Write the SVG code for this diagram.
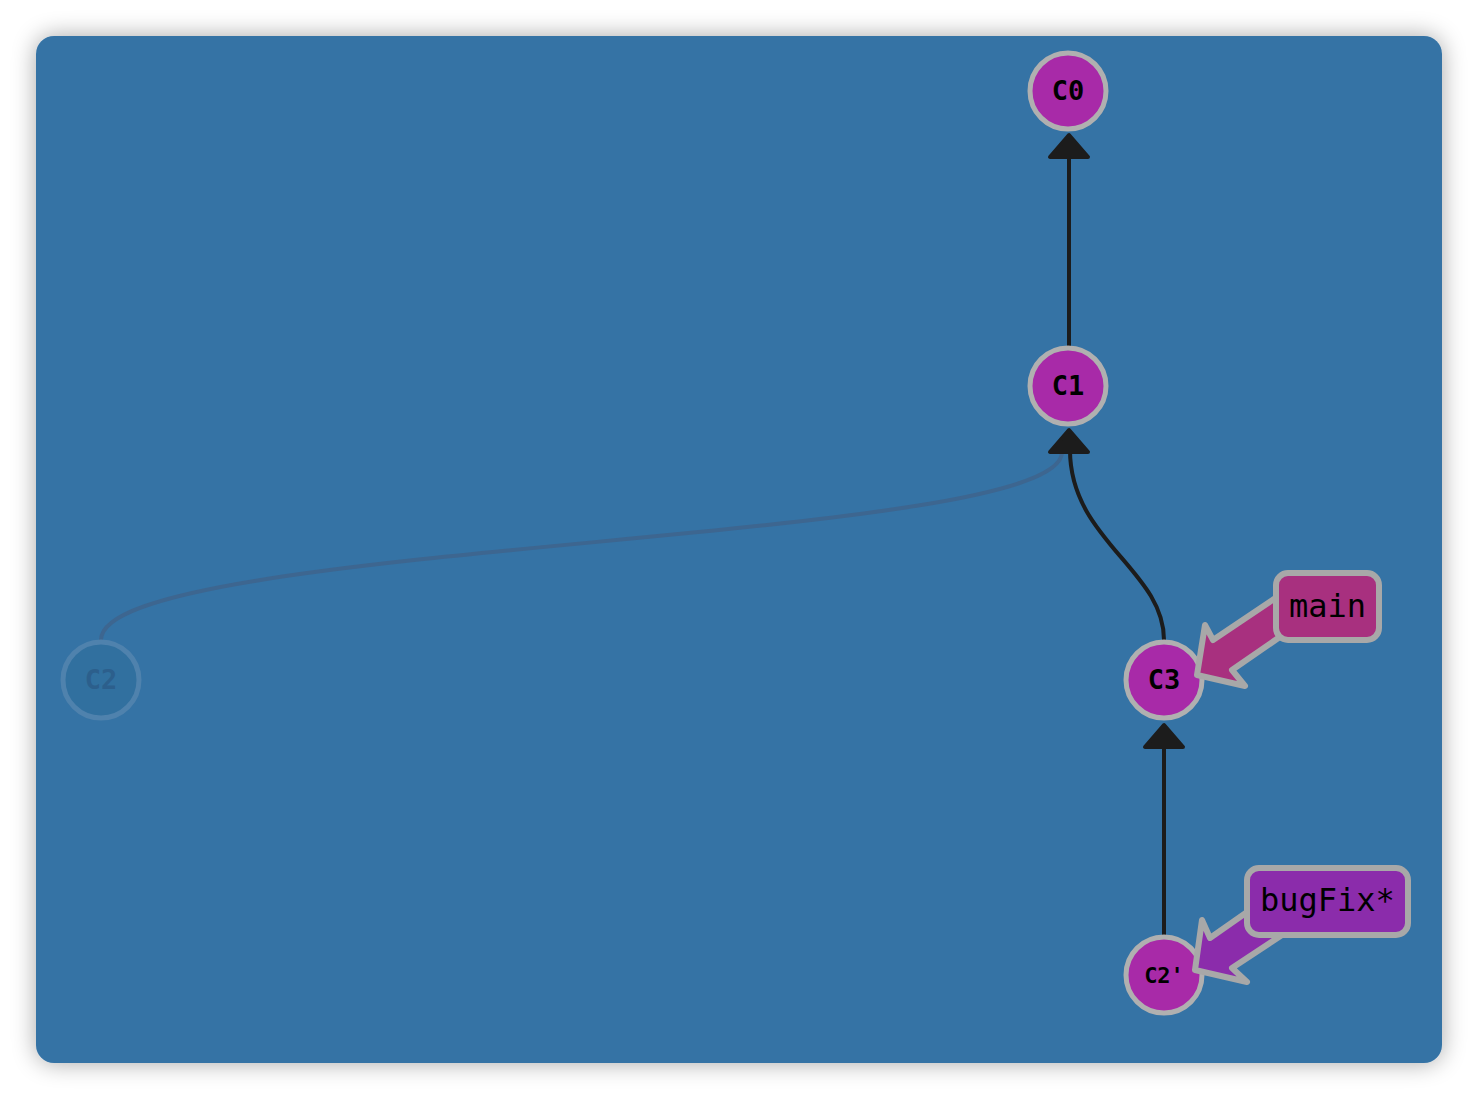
<svg xmlns="http://www.w3.org/2000/svg" width="1478" height="1100" viewBox="0 0 1478 1100">
<defs>
<filter id="sh" x="-10%" y="-10%" width="120%" height="120%">
<feGaussianBlur in="SourceAlpha" stdDeviation="12"/>
<feComponentTransfer><feFuncA type="linear" slope="0.35"/></feComponentTransfer>
<feMerge><feMergeNode/><feMergeNode in="SourceGraphic"/></feMerge>
</filter>
<polygon id="head" points="0,0 -19,22 19,22"/>
</defs>
<style>
.edge{fill:none;stroke:#1c1c1c;stroke-width:4}
.head{fill:#1c1c1c;stroke:#1c1c1c;stroke-width:4;stroke-linejoin:round}
.node circle{fill:#a82aa8;stroke:#b0b0b0;stroke-width:5}
.node text{font-family:"DejaVu Sans Mono","Liberation Mono",monospace;font-weight:bold;font-size:27px;fill:#000;text-anchor:middle}
.lbl{stroke:#a8a8a8;stroke-width:6;stroke-linejoin:round}
.lbl text{font-family:"DejaVu Sans Mono","Liberation Mono",monospace;font-size:32px;fill:#000;stroke:none}
</style>
<rect x="0" y="0" width="1478" height="1100" fill="#ffffff"/>
<rect x="36" y="36" width="1406" height="1027" rx="18" fill="#3573a5" filter="url(#sh)"/>
<g id="connectors">
<path d="M101,640 C101,540 1062,545 1062,452" fill="none" stroke="#3d6690" stroke-width="4"/>
<path class="edge" d="M1069,346 L1069,155"/>
<use href="#head" class="head" x="1069" y="135"/>
<path class="edge" d="M1164,640 C1164,570 1070,540 1070,450"/>
<use href="#head" class="head" x="1069" y="430"/>
<path class="edge" d="M1164,935 L1164,746"/>
<use href="#head" class="head" x="1164" y="725"/>
</g>
<g id="C2" class="node">
<circle cx="101" cy="680" r="38" style="fill:#31709f;stroke:#4f82ad"/>
<text x="101" y="689" style="fill:#2c5f8c">C2</text>
</g>
<g id="C0" class="node">
<circle cx="1068" cy="91" r="38"/>
<text x="1068" y="100">C0</text>
</g>
<g id="C1" class="node">
<circle cx="1068" cy="386" r="38"/>
<text x="1068" y="395">C1</text>
</g>
<g id="C3" class="node">
<circle cx="1164" cy="680" r="38"/>
<text x="1164" y="689">C3</text>
</g>
<g id="C2p" class="node">
<circle cx="1164" cy="975" r="38"/>
<text x="1164" y="983" style="font-size:22px">C2'</text>
</g>
<g id="main" class="lbl">
<polygon points="1197,675 1205,625 1213,640 1277,597 1287,632 1232,670 1245,686" fill="#a8307f"/>
<rect x="1276" y="573" width="103" height="67" rx="12" fill="#a8307f"/>
<text x="1289" y="617">main</text>
</g>
<g id="bugFix" class="lbl">
<polygon points="1195,970 1202,920 1210,938 1250,910 1282,935 1232,968 1247,982" fill="#8b2cab"/>
<rect x="1247" y="868" width="161" height="67" rx="12" fill="#8b2cab"/>
<text x="1260" y="911">bugFix*</text>
</g>
</svg>
